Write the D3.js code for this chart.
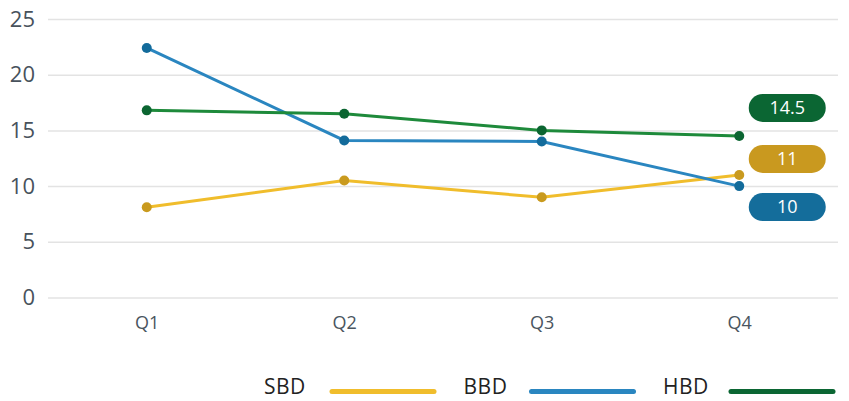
<!DOCTYPE html>
<html>
<head>
<meta charset="utf-8">
<script src="https://cdn.jsdelivr.net/npm/d3@7"></script>
<style>
  body { margin: 0; background: #fff; }
  svg { display: block; font-family: "Open Sans", "Noto Sans", sans-serif; }
</style>
</head>
<body>
<div id="chart"></div>
<script>
// data
const quarters = ["Q1", "Q2", "Q3", "Q4"];
const sbd = [8.1, 10.5, 9.0, 11];
const bbd = [22.4, 14.1, 14.0, 10];
const hbd = [16.8, 16.5, 15.0, 14.5];
const yTicks = [0, 5, 10, 15, 20, 25];
const seriesNames = ["SBD", "BBD", "HBD"];

const series = [
  {name: "SBD", values: sbd, line: "#f0bd2c", dot: "#c99a1e", pill: "#c9991f", key: "#f0bd2c", dy: -16},
  {name: "BBD", values: bbd, line: "#2a86c0", dot: "#136b9b", pill: "#146d9b", key: "#2a86c0", dy: 21},
  {name: "HBD", values: hbd, line: "#1e8a3b", dot: "#0b6531", pill: "#0b6633", key: "#0b6633", dy: -28}
];

const W = 849, H = 401;
const margin = {top: 19, right: 11, bottom: 103.5, left: 48},
    width = W - margin.left - margin.right,
    height = H - margin.top - margin.bottom;

const svg = d3.select("#chart")
  .append("svg")
    .attr("width", W)
    .attr("height", H)
  .append("g")
    .attr("transform", `translate(${margin.left},${margin.top})`);

const x = d3.scalePoint()
  .domain(quarters)
  .range([0, width])
  .padding(0.5);

const y = d3.scaleLinear()
  .domain([0, 25])
  .range([height, 0]);

// gridlines + y labels
const yAxis = svg.append("g")
  .call(d3.axisLeft(y).tickValues(yTicks).tickSize(-width).tickPadding(13))
  .attr("font-family", null);
yAxis.select(".domain").remove();
yAxis.selectAll("line").attr("stroke", "#e3e3e3").attr("stroke-width", 1.5);
yAxis.selectAll("text")
  .attr("fill", "#48525c")
  .style("font-size", "22px");

// x labels
const xAxis = svg.append("g")
  .attr("transform", `translate(0,${height})`)
  .call(d3.axisBottom(x).tickSize(0).tickPadding(19))
  .attr("font-family", null);
xAxis.select(".domain").remove();
xAxis.selectAll("text")
  .attr("fill", "#4a5560")
  .style("font-size", "18px");

const line = d3.line()
  .x((d, i) => x(quarters[i]))
  .y(d => y(d));

// lines
svg.selectAll(".series-line")
  .data(series)
  .join("path")
    .attr("class", "series-line")
    .attr("fill", "none")
    .attr("stroke", d => d.line)
    .attr("stroke-width", 3)
    .attr("d", d => line(d.values));

// dots
series.forEach(s => {
  svg.selectAll(".dot-" + s.name)
    .data(s.values)
    .join("circle")
      .attr("cx", (d, i) => x(quarters[i]))
      .attr("cy", d => y(d))
      .attr("r", 5)
      .attr("fill", s.dot);
});

// end labels (pills)
const pillW = 77, pillH = 28;
const pills = svg.selectAll(".pill")
  .data(series)
  .join("g")
    .attr("transform", d => {
      const last = d.values.length - 1;
      return `translate(${x(quarters[last]) + 48},${y(d.values[last]) + d.dy})`;
    });
pills.append("rect")
  .attr("x", -pillW / 2)
  .attr("y", -pillH / 2)
  .attr("width", pillW)
  .attr("height", pillH)
  .attr("rx", pillH / 2)
  .attr("fill", d => d.pill);
pills.append("text")
  .attr("text-anchor", "middle")
  .attr("dy", "0.35em")
  .attr("fill", "#fff")
  .style("font-size", "18px")
  .text(d => d.values[d.values.length - 1]);

// legend
const legend = svg.append("g")
  .attr("transform", `translate(0,${height + 89})`);
const item = legend.selectAll("g")
  .data(series)
  .join("g")
    .attr("transform", (d, i) => `translate(${216 + i * 199.5},0)`);
item.append("text")
  .attr("x", 0)
  .attr("dy", "0.35em")
  .attr("fill", "#222")
  .style("font-size", "21px")
  .style("letter-spacing", "0.5px")
  .text((d, i) => seriesNames[i]);
item.append("line")
  .attr("x1", 68)
  .attr("x2", 170)
  .attr("y1", 5)
  .attr("y2", 5)
  .attr("stroke", d => d.key)
  .attr("stroke-width", 5)
  .attr("stroke-linecap", "round");
</script>
</body>
</html>
